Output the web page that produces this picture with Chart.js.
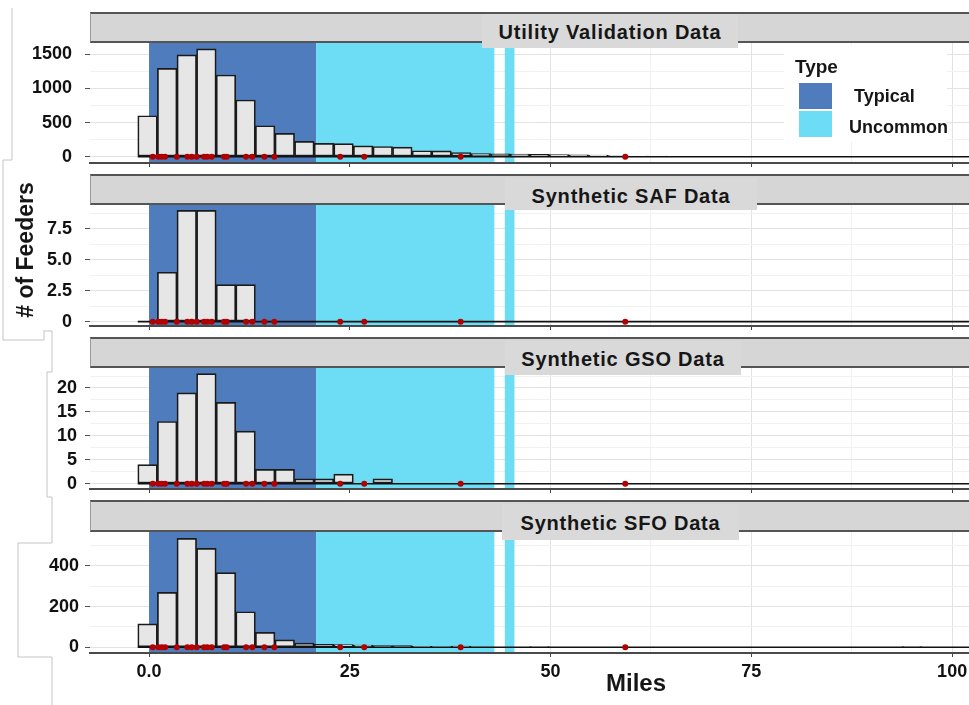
<!DOCTYPE html>
<html>
<head>
<meta charset="utf-8">
<script src="https://cdn.jsdelivr.net/npm/chart.js@4.4.1/dist/chart.umd.min.js"></script>
<style>
  body { margin: 0; width: 969px; height: 705px; overflow: hidden; background: #fff; position: relative;
         font-family: "Liberation Sans", Arial, sans-serif; }
  canvas { position: absolute; left: 0; }
  .strip { position: absolute; left: 90px; width: 879px; background: #d6d6d6; box-sizing: border-box;
           border-top: 2px solid #555; border-bottom: 2px solid #555; border-left: 1px solid #999; }
  .tag { position: absolute; background: #d9d9d9; font-weight: bold; font-size: 20px; letter-spacing: 0.8px;
         color: #161616; text-align: center; white-space: nowrap; }
  .txt { position: absolute; font-weight: bold; color: #161616; white-space: nowrap; }
  .sw { position: absolute; width: 33px; height: 26px; }
</style>
</head>
<body>

<svg width="969" height="705" style="position:absolute;left:0;top:0">
  <polyline points="12,8 12,160 3,160 3,340 44,340 44,330" fill="none" stroke="#c4c4c4" stroke-width="1"/>
  <polyline points="45,331 52,331 52,372 47,372 47,497 52,497 52,543 18,543 18,657 52,657 52,705" fill="none" stroke="#c4c4c4" stroke-width="1"/>
</svg>

<canvas id="p1" width="969" height="128" style="top:43px"></canvas>
<canvas id="p2" width="969" height="129" style="top:205px"></canvas>
<canvas id="p3" width="969" height="129" style="top:368px"></canvas>
<canvas id="p4" width="969" height="173" style="top:532px"></canvas>

<div class="strip" style="top:12px;height:31px"></div>
<div class="strip" style="top:174px;height:31px"></div>
<div class="strip" style="top:337px;height:31px"></div>
<div class="strip" style="top:500px;height:32px"></div>

<div class="tag" style="left:482px;top:14px;width:256px;height:34px;line-height:36px">Utility Validation Data</div>
<div class="tag" style="left:505px;top:178px;width:252px;height:32px;line-height:36px">Synthetic SAF Data</div>
<div class="tag" style="left:505px;top:341px;width:236px;height:34px;line-height:37px">Synthetic GSO Data</div>
<div class="tag" style="left:502px;top:504px;width:237px;height:36px;line-height:38px">Synthetic SFO Data</div>

<div style="position:absolute;left:784px;top:46px;width:163px;height:96px;background:#fff"></div>
<div class="txt" style="left:795px;top:57px;font-size:19px;line-height:19px">Type</div>
<div class="sw" style="left:799px;top:83px;background:#4f7cbd"></div>
<div class="sw" style="left:799px;top:111px;background:#6ddcf5"></div>
<div class="txt" style="left:854px;top:87px;font-size:18px;line-height:18px">Typical</div>
<div class="txt" style="left:849px;top:118px;font-size:18px;line-height:18px">Uncommon</div>

<div class="txt" style="left:-75px;top:235px;width:200px;height:30px;line-height:30px;font-size:23px;text-align:center;transform:rotate(-90deg)"># of Feeders</div>
<div class="txt" style="left:606px;top:671px;font-size:24px;line-height:24px">Miles</div>

<script>
// histogram bins (miles)
const binWidth = 2.44;
const binStart = -0.18;

// feeder counts per bin
const utilityCounts = [600, 1295, 1490, 1578, 1197, 831, 454, 342, 225, 195, 192, 160, 150, 140, 88, 85, 62, 45, 42, 40,
                       36, 32, 28, 24, 18, 10, 8, 6, 4, 3, 2, 2, 1, 1, 1, 1, 1, 0, 0, 1];
const safCounts = [0, 4, 9, 9, 3, 3, 0, 0, 0, 0];
const gsoCounts = [4, 13, 19, 23, 17, 11, 3, 3, 1, 1, 2, 0, 1, 0, 0];
const sfoCounts = [115, 270, 536, 487, 367, 175, 74, 37, 21, 15, 14, 11, 8, 8, 5, 2, 6, 0, 0, 0,
                   4, 0, 0, 0, 0, 0, 0, 0, 0, 0, 0, 0, 0, 0, 0, 0, 0, 0, 0, 4];

// red markers: feeder lengths
const feederMiles = [0.46, 1.16, 1.58, 2.0, 3.45, 4.77, 5.32, 5.94, 6.85, 7.26, 7.8, 9.34, 9.67,
                     12.08, 12.86, 14.36, 15.6, 23.8, 26.8, 38.8, 59.3];

// shaded ranges
const typicalRange = [0, 20.8];
const uncommonRanges = [[20.8, 43.0], [44.3, 45.5]];

// tick labels
const xTickValues = [0, 25, 50, 75, 100];
const xTickLabels = ["0.0", "25", "50", "75", "100"];
const utilityTicks = [0, 500, 1000, 1500];
const utilityLabels = ["0", "500", "1000", "1500"];
const safTicks = [0, 2.5, 5, 7.5];
const safLabels = ["0", "2.5", "5.0", "7.5"];
const gsoTicks = [0, 5, 10, 15, 20];
const gsoLabels = ["0", "5", "10", "15", "20"];
const sfoTicks = [0, 200, 400];
const sfoLabels = ["0", "200", "400"];

const typicalColor = '#4f7cbd';
const uncommonColor = '#6ddcf5';
const xMin = -7.35, xMax = 102.1;
const tickFont = { family: '"Liberation Sans", Arial, sans-serif', size: 18, weight: 'bold' };

// major + minor grid positions
function gridValues(step, max) {
  const out = [];
  for (let k = 0; k * step <= max; k++) out.push(k * step);
  return out;
}

const bands = {
  id: 'bands',
  beforeDatasetsDraw(chart) {
    const { ctx, chartArea, scales: { x } } = chart;
    const h = chartArea.bottom - chartArea.top - 1;
    ctx.save();
    ctx.fillStyle = typicalColor;
    let a = x.getPixelForValue(typicalRange[0]), b = x.getPixelForValue(typicalRange[1]);
    ctx.fillRect(a, chartArea.top, b - a, h);
    ctx.fillStyle = uncommonColor;
    uncommonRanges.forEach(r => {
      a = x.getPixelForValue(r[0]);
      b = x.getPixelForValue(r[1]);
      ctx.fillRect(a, chartArea.top, b - a, h);
    });
    ctx.restore();
  }
};

function panel(id, counts, ticks, labels, yMin, yMax, step, pad, bottom) {
  const major = v => ticks.indexOf(v) >= 0;
  const xMajor = v => xTickValues.indexOf(v) >= 0;
  return new Chart(document.getElementById(id), {
    type: 'bar',
    data: {
      datasets: [
        {
          type: 'scatter',
          data: feederMiles.map(m => ({ x: m, y: 0 })),
          backgroundColor: '#b00000',
          borderWidth: 0,
          pointRadius: 3,
          order: 0
        },
        {
          type: 'line',
          data: [{ x: binStart - binWidth / 2, y: 0 }, { x: xMax, y: 0 }],
          borderColor: '#111',
          borderWidth: 1.6,
          pointRadius: 0,
          order: 1
        },
        {
          type: 'bar',
          data: counts.map((c, i) => ({ x: binStart + i * binWidth, y: c })),
          backgroundColor: '#e6e6e6',
          borderColor: '#1a1a1a',
          borderWidth: 1.7,
          borderSkipped: false,
          barPercentage: 1,
          categoryPercentage: 1,
          order: 2
        }
      ]
    },
    options: {
      responsive: false,
      animation: false,
      events: [],
      layout: { padding: 0, autoPadding: false },
      plugins: { legend: { display: false }, tooltip: { enabled: false } },
      scales: {
        x: {
          type: 'linear',
          min: xMin,
          max: xMax,
          offset: false,
          grid: {
            offset: false,
            color: c => xMajor(c.tick.value) ? '#e3e3e3' : '#f1f1f1',
            tickColor: c => xMajor(c.tick.value) ? '#444' : 'rgba(0,0,0,0)',
            tickLength: 4
          },
          border: { display: true, color: '#4a4a4a', width: 2 },
          ticks: {
            display: bottom,
            autoSkip: false,
            maxRotation: 0,
            padding: 4,
            font: tickFont,
            color: '#111',
            callback: v => { const i = xTickValues.indexOf(v); return i >= 0 ? xTickLabels[i] : ''; }
          },
          afterBuildTicks: s => { s.ticks = gridValues(12.5, xMax).map(v => ({ value: v })); },
          afterFit: s => { s.height = bottom ? 52 : 8; s.paddingLeft = 0; s.paddingRight = 0; }
        },
        y: {
          min: yMin,
          max: yMax,
          grid: {
            color: c => major(c.tick.value) ? '#e3e3e3' : '#f1f1f1',
            tickColor: c => major(c.tick.value) ? '#555' : 'rgba(0,0,0,0)',
            tickLength: 5
          },
          border: { display: false },
          ticks: {
            autoSkip: false,
            padding: pad,
            font: tickFont,
            color: '#111',
            callback: v => { const i = ticks.indexOf(v); return i >= 0 ? labels[i] : ''; }
          },
          afterBuildTicks: s => { s.ticks = gridValues(step, yMax).map(v => ({ value: v })); },
          afterFit: s => { s.width = 90; s.paddingTop = 0; s.paddingBottom = 0; }
        }
      }
    },
    plugins: [bands]
  });
}

panel('p1', utilityCounts, utilityTicks, utilityLabels, -92, 1665, 250, 13, false);
panel('p2', safCounts, safTicks, safLabels, -0.35, 9.44, 1.25, 13, false);
panel('p3', gsoCounts, gsoTicks, gsoLabels, -1.11, 24.18, 2.5, 8, false);
panel('p4', sfoCounts, sfoTicks, sfoLabels, -28, 567, 100, 6, true);
</script>
</body>
</html>
